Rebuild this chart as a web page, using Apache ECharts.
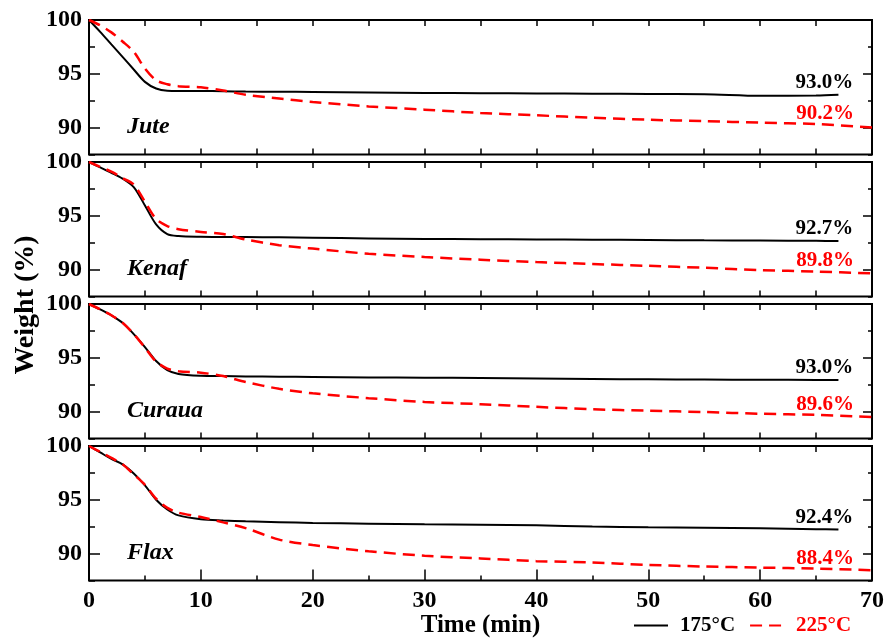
<!DOCTYPE html>
<html><head><meta charset="utf-8">
<script src="https://cdn.jsdelivr.net/npm/echarts@6/dist/echarts.min.js"></script>
<style>html,body{margin:0;padding:0;background:#fff}#c{width:888px;height:642px}</style>
</head><body><div id="c"></div>
<script>
const time175 = [0,1,2,3,4,5,6,7,8,10,12,14,17,20,25,30,35,40,45,50,55,60,65,67];
const time225 = [0,1,2,3,4,5,6,7,8,10,12,14,17,20,25,30,35,40,45,50,55,60,65,70];
const fibers = ['Jute','Kenaf','Curaua','Flax'];
const jute175   = [100,98.9,97.73,96.58,95.4,94.25,93.63,93.42,93.4,93.4,93.38,93.35,93.33,93.31,93.27,93.22,93.2,93.18,93.15,93.12,93.1,92.95,92.98,93.05];
const jute225   = [100,99.5,98.85,98.0,97.05,95.5,94.4,94.03,93.85,93.75,93.45,93.05,92.7,92.38,91.97,91.67,91.36,91.14,90.92,90.73,90.6,90.46,90.33,90.0];
const kenaf175  = [100,99.5,99.0,98.45,97.67,95.96,94.2,93.3,93.12,93.05,93.03,93.02,93.0,92.97,92.9,92.85,92.82,92.8,92.78,92.75,92.72,92.7,92.67,92.65];
const kenaf225  = [100,99.55,99.1,98.5,97.9,96.3,94.7,94.05,93.75,93.5,93.3,92.8,92.27,91.95,91.47,91.17,90.92,90.7,90.52,90.35,90.17,89.95,89.82,89.65];
const curaua175 = [100,99.5,98.95,98.25,97.2,96.0,94.7,93.85,93.5,93.33,93.3,93.27,93.24,93.22,93.18,93.15,93.12,93.08,93.03,93.0,92.98,92.96,92.94,92.93];
const curaua225 = [100,99.5,98.95,98.25,97.2,95.95,94.65,94.0,93.75,93.62,93.3,92.75,92.12,91.7,91.25,90.9,90.69,90.44,90.22,90.08,89.96,89.8,89.7,89.5];
const flax175   = [100,99.4,98.8,98.3,97.45,96.35,95.0,94.1,93.55,93.2,93.08,93.0,92.92,92.85,92.78,92.72,92.68,92.63,92.52,92.45,92.4,92.35,92.27,92.23];
const flax225   = [100,99.45,98.9,98.3,97.35,96.4,95.1,94.25,93.8,93.4,92.9,92.37,91.3,90.8,90.22,89.8,89.55,89.3,89.18,88.95,88.8,88.7,88.6,88.46];
const final175 = ['93.0%','92.7%','93.0%','92.4%'];
const final225 = ['90.2%','89.8%','89.6%','88.4%'];
const xTickValues = [0,10,20,30,40,50,60,70];
const yTickValues = [90,95,100];
const seriesNames = ['175°C','225°C'];

const vals175 = [jute175, kenaf175, curaua175, flax175];
const vals225 = [jute225, kenaf225, curaua225, flax225];

const FONT = "'Liberation Serif','Times New Roman',serif";
const RED = '#ff0000';
const gridTop0 = 20, gridStep = 142, gridH = 134.5, gridLeft = 89, gridW = 783;
const yMin = 87.5, yMax = 100, xMin = 0, xMax = 70;
const tickLS = {color:'#000', width:1.5};
const noLine = {show:false, onZero:false};

const grids=[], xAxes=[], yAxes=[], series=[], titles=[];
fibers.forEach((name,i)=>{
  const top = gridTop0 + i*gridStep;
  const last = i === fibers.length-1;
  grids.push({left:gridLeft, top:top, width:gridW, height:gridH, show:true, borderColor:'#000', borderWidth:2, backgroundColor:'transparent'});
  xAxes.push({gridIndex:i, type:'value', position:'bottom', min:xMin, max:xMax, interval: last?10:5,
    axisLine:noLine, splitLine:{show:false},
    axisTick:{show:true, inside:true, length:last?11:6, lineStyle:tickLS},
    minorTick:{show:last, splitNumber:2, length:5, lineStyle:tickLS},
    axisLabel:{show:last, margin:8, fontFamily:FONT, fontSize:24, fontWeight:'bold', color:'#000',
      formatter:v=> xTickValues.indexOf(v)>=0 ? String(v) : ''},
    name: last ? 'Time (min)' : '', nameLocation:'middle', nameGap:33,
    nameTextStyle:{fontFamily:FONT, fontSize:25, fontWeight:'bold', color:'#000'}
  });
  xAxes.push({gridIndex:i, type:'value', position:'top', min:xMin, max:xMax, interval:5,
    axisLine:noLine, splitLine:{show:false},
    axisTick:{show:true, inside:true, length:6, lineStyle:tickLS}, axisLabel:{show:false}});
  yAxes.push({gridIndex:i, type:'value', position:'left', min:yMin, max:yMax,
    axisLine:noLine, splitLine:{show:false},
    axisTick:{show:true, inside:true, length:11, customValues:yTickValues, lineStyle:tickLS},
    axisLabel:{show:true, customValues:yTickValues, margin:7, fontFamily:FONT, fontSize:24, fontWeight:'bold', color:'#000'}});
  yAxes.push({gridIndex:i, type:'value', position:'left', min:yMin, max:yMax, interval:2.5,
    axisLine:noLine, splitLine:{show:false},
    axisTick:{show:true, inside:true, length:6, lineStyle:tickLS}, axisLabel:{show:false}});
  yAxes.push({gridIndex:i, type:'value', position:'right', min:yMin, max:yMax,
    axisLine:noLine, splitLine:{show:false},
    axisTick:{show:true, inside:true, length:9, customValues:yTickValues, lineStyle:tickLS},
    axisLabel:{show:false}});
  yAxes.push({gridIndex:i, type:'value', position:'right', min:yMin, max:yMax, interval:2.5,
    axisLine:noLine, splitLine:{show:false},
    axisTick:{show:true, inside:true, length:4, lineStyle:tickLS}, axisLabel:{show:false}});

  const a = vals175[i], b = vals225[i];
  const nA = time175.length-1;
  const idxB = time225.indexOf(65);
  const labelStyle = {show:true, position:'top', distance:2, fontFamily:FONT, fontSize:21, fontWeight:'bold'};
  series.push({type:'line', name:seriesNames[0], xAxisIndex:i*2, yAxisIndex:i*4,
    data: time175.map((t,k)=>[t,a[k]]), symbol:'none', smooth:0.3,
    lineStyle:{color:'#000', width:2}, itemStyle:{color:'#000'}, animation:false, silent:true, z:3,
    markPoint:{symbol:'circle', symbolSize:0, silent:true, animation:false,
      data:[{coord:[time175[nA], a[nA]]}],
      label:Object.assign({}, labelStyle, {color:'#000', offset:[-14,0], formatter:final175[i]})}
  });
  series.push({type:'line', name:seriesNames[1], xAxisIndex:i*2, yAxisIndex:i*4,
    data: time225.map((t,k)=>[t,b[k]]), symbol:'none', smooth:0.3,
    lineStyle:{color:RED, width:2.5, type:[12,7]}, itemStyle:{color:RED}, animation:false, silent:true, z:4,
    markPoint:{symbol:'circle', symbolSize:0, silent:true, animation:false,
      data:[{coord:[time225[idxB], b[idxB]]}],
      label:Object.assign({}, labelStyle, {color:RED, offset:[9,0], distance:0, formatter:final225[i]})}
  });
  titles.push({text:name, left:127, top: top + (yMax-90)*gridH/(yMax-yMin) - 13, padding:0,
    textStyle:{fontFamily:FONT, fontSize:24, fontWeight:'bold', fontStyle:'italic', color:'#000'}});
});

const chart = echarts.init(document.getElementById('c'), null, {renderer:'canvas'});
chart.setOption({
  animation:false,
  backgroundColor:'#fff',
  title: titles,
  grid: grids, xAxis: xAxes, yAxis: yAxes, series: series,
  legend:{data:[{name:seriesNames[0], textStyle:{color:'#000'}},{name:seriesNames[1], textStyle:{color:RED}}],
    left:633, top:615, itemWidth:34, itemHeight:22, itemGap:14, padding:0, selectedMode:false,
    itemStyle:{opacity:0},
    textStyle:{fontFamily:FONT, fontSize:21, fontWeight:'bold', padding:[0,0,0,7]}},
  graphic:[{type:'text', x:26, y:305, rotation:Math.PI/2,
    style:{text:'Weight (%)', font:"bold 28px 'Liberation Serif'", fill:'#000', align:'center', verticalAlign:'middle', textAlign:'center', textVerticalAlign:'middle'}}]
});
</script></body></html>
